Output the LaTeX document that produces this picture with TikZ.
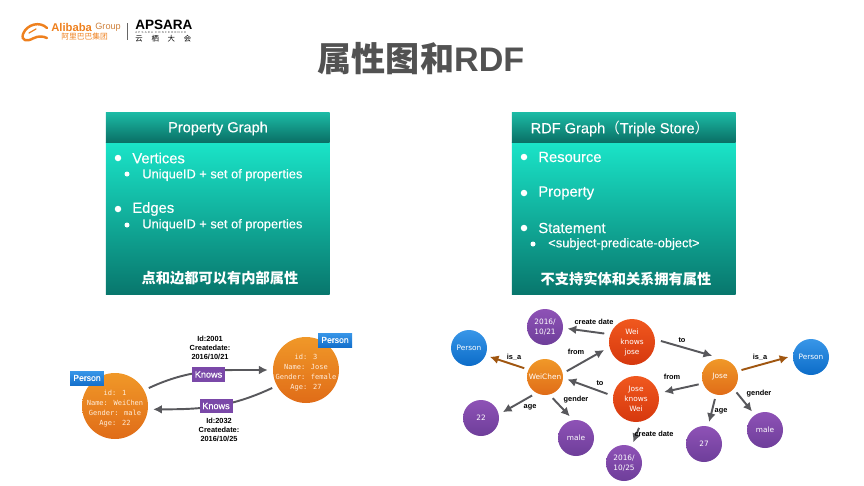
\documentclass[tikz,border=0pt]{standalone}
\usepackage{fontspec}
\setmainfont{Liberation Sans}
\newfontfamily\cjk{Noto Sans CJK SC}
\newfontfamily\roundfont{DejaVu Sans}
\newfontfamily\propfont{DejaVu Sans Mono}
\newfontfamily\panelfont[FakeBold=0.35]{Liberation Sans}
\newfontfamily\tinyfont[LetterSpace=45]{Liberation Sans}
\usetikzlibrary{arrows.meta}
\definecolor{alibaba}{RGB}{238,128,30}
\definecolor{arrowgray}{RGB}{88,88,92}
\definecolor{arrowbrown}{RGB}{160,86,16}
\definecolor{tagpurple}{RGB}{122,72,168}
\definecolor{orangetop}{RGB}{240,152,40}
\definecolor{orangebot}{RGB}{224,108,24}
\newcommand{\ttext}[2]{\fontsize{#1}{#2}\selectfont}
\newcommand{\topgap}{\rule{0pt}{6pt}}

\begin{document}
\begin{tikzpicture}[
      x=0.02cm, y=0.02cm,
      head/.style={minimum width=4.48cm, minimum height=0.6cm, inner sep=0, text=white, top color={rgb,255:red,28;green,188;blue,166}, bottom color={rgb,255:red,10;green,112;blue,102}},
      panel/.style={minimum width=4.48cm, minimum height=3.06cm, inner sep=0, top color={rgb,255:red,26;green,228;blue,200}, bottom color={rgb,255:red,8;green,118;blue,108}},
      bul/.style={circle, fill=white, inner sep=0, minimum size=0.13cm},
      subbul/.style={circle, fill=white, inner sep=0, minimum size=0.1cm},
      headtext/.style={inner sep=0, text=white, font=\panelfont\ttext{8.3}{10}},
      item/.style={anchor=west, inner sep=0, text=white, font=\panelfont\ttext{8.4}{10}},
      subitem/.style={anchor=west, inner sep=0, text=white, font=\panelfont\ttext{7.3}{9}},
      note/.style={inner sep=0, text=white, font=\cjk\bfseries\ttext{8.1}{10}},
      bigball/.style={circle, minimum size=1.32cm, inner sep=-6pt, outer sep=3pt, align=center, text=white!85!orange, top color=orangetop, bottom color=orangebot, font=\propfont\ttext{4}{5.7}},
      ball/.style={circle, minimum size=0.72cm, inner sep=-2pt, outer sep=2.6pt, align=center, text=white, font=\roundfont\ttext{4.2}{5.7}},
      orangeball/.style={ball, top color=orangetop, bottom color=orangebot},
      blueball/.style={ball, top color={rgb,255:red,56;green,150;blue,232}, bottom color={rgb,255:red,12;green,108;blue,200}},
      purpleball/.style={ball, top color={rgb,255:red,142;green,82;blue,182}, bottom color={rgb,255:red,110;green,62;blue,154}},
      redball/.style={ball, minimum size=0.92cm, outer sep=3.4pt, top color={rgb,255:red,240;green,88;blue,30}, bottom color={rgb,255:red,214;green,56;blue,14}},
      persontag/.style={minimum width=0.68cm, minimum height=0.28cm, inner sep=0, text=white, top color={rgb,255:red,56;green,150;blue,232}, bottom color={rgb,255:red,20;green,112;blue,204}, font=\panelfont\ttext{4.9}{6}},
      knowstag/.style={minimum width=0.66cm, minimum height=0.29cm, inner sep=0, text=white, fill=tagpurple, font=\panelfont\ttext{5.2}{6}},
      elabel/.style={inner sep=0, align=center, text=black, font=\bfseries\ttext{4.2}{5.1}},
      arr/.style={-{Latex[length=5pt,width=5pt]}, line width=1.1pt, draw=arrowgray},
      isarr/.style={arr, draw=arrowbrown}
    ]
      \useasboundingbox (0,0) rectangle (864,485);

      % logos
      \draw[alibaba, line width=1.4pt, line cap=round] (47,457) .. controls (40,464) and (27,461) .. (23,451) .. controls (21,444) and (27,443) .. (34,447) .. controls (38,449) and (43,449) .. (47,447);
      \draw[alibaba, line width=0.7pt, line cap=round] (29,452) -- (36,456);
      \node[inner sep=0, anchor=west, text=alibaba, font=\bfseries\ttext{6.4}{8}] (alibabaname) at (51,458) {Alibaba};
      \node[inner sep=0, anchor=west, text=alibaba!70!gray, font=\ttext{5.2}{8}] (groupname) at (95,458) {Group};
      \node[inner sep=0, anchor=west, text=alibaba, font=\cjk\ttext{4.4}{5}] (alibabacn) at (61,448) {阿里巴巴集团};
      \draw[black!60, line width=0.5pt] (127,462) -- (127,445);
      \node[inner sep=0, anchor=west, text=black, font=\bfseries\ttext{7.7}{10}] (apsara) at (135,460) {APSARA};
      \node[inner sep=0, anchor=west, text=black!75, font=\tinyfont\ttext{1.6}{2}] (conference) at (135,452.5) {APSARA CONFERENCE};
      \node[inner sep=0, anchor=west, text=black, font=\cjk\ttext{4.2}{5}] (yunqi) at (135,446) {云\hspace{5pt}栖\hspace{5pt}大\hspace{5pt}会};

      \node[inner sep=0, text=black!68, font=\cjk\bfseries\ttext{19.4}{22}] (title) at (421,426) {属性图和{\fontspec{Liberation Sans}\bfseries RDF}};

      % property graph panel
      \node[panel] (pgbody) at (217.75,266.5) {};
      \node[head] (pghead) at (217.75,358) {};
      \node[headtext] (pgtitle) at (218,356.5) {Property Graph};
      \node[item] (vertices) at (132,327) {Vertices};
      \node[subitem] (vertprops) at (142,310) {UniqueID + set of properties};
      \node[item] (edges) at (132,276) {Edges};
      \node[subitem] (edgeprops) at (142,260) {UniqueID + set of properties};
      \node[note] (pgnote) at (220,207) {点和边都可以有内部属性};
      \foreach \y [count=\i] in {327,276} \node[bul] (pgbul\i) at (118,\y) {};
      \foreach \y [count=\i] in {311,260} \node[subbul] (pgsub\i) at (127,\y) {};

      % rdf panel
      \node[panel] (rdfbody) at (623.75,266.5) {};
      \node[head] (rdfhead) at (623.75,358) {};
      \node[headtext] (rdftitle) at (620,356.5) {RDF Graph{\cjk（}Triple Store{\cjk）}};
      \node[item] (resource) at (538,328) {Resource};
      \node[item] (property) at (538,292) {Property};
      \node[item] (statement) at (538,257) {Statement};
      \node[subitem] (spo) at (548,241) {<subject-predicate-object>};
      \node[note] (rdfnote) at (626,206) {不支持实体和关系拥有属性};
      \foreach \y [count=\i] in {328,292,257} \node[bul] (rdfbul\i) at (524,\y) {};
      \node[subbul] (rdfsub) at (533,241) {};

      % property graph
      \node[bigball] (wei) at (115,79) {\topgap id: 1\\Name: WeiChen\\Gender: male\\Age: 22};
      \node[bigball] (jo) at (306,115) {\topgap id: 3\\Name: Jose\\Gender: female\\Age: 27};
      \draw[arr] (wei.28) to[out=25,in=180] (jo.180);
      \draw[arr] (jo.208) to[out=205,in=0] (wei.-5);
      \node[persontag] (tagwei) at (87,107) {Person};
      \node[persontag] (tagjo) at (335,145) {Person};
      \node[knowstag] (knows1) at (208.5,110.5) {Knows};
      \node[knowstag] (knows2) at (216,79) {Knows};
      \node[elabel] (id1) at (210,137) {Id:2001\\Createdate:\\2016/10/21};
      \node[elabel] (id2) at (219,55) {Id:2032\\Createdate:\\2016/10/25};

      % rdf graph
      \node[blueball] (pl) at (469,137) {Person};
      \node[orangeball] (wc) at (545,108) {WeiChen};
      \node[purpleball] (d1) at (545,158) {2016/\\10/21};
      \node[redball] (wkj) at (632,143) {Wei\\knows\\jose};
      \node[redball] (jkw) at (636,86) {Jose\\knows\\Wei};
      \node[purpleball] (n22) at (481,67) {22};
      \node[purpleball] (ml) at (576,47) {male};
      \node[purpleball] (d2) at (624,22) {2016/\\10/25};
      \node[orangeball] (jose) at (720,108) {Jose};
      \node[blueball] (pr) at (811,128) {Person};
      \node[purpleball] (mr) at (765,55) {male};
      \node[purpleball] (n27) at (704,41) {27};

      \draw[isarr] (wc.157) -- (pl.-23);
      \draw[arr] (wc.15) -- (wkj.196);
      \draw[arr] (wkj.163) -- (d1.-4);
      \draw[arr] (jkw.170) -- (wc.-6);
      \draw[arr] (wc.235) -- (n22.15);
      \draw[arr] (wc.-70) -- (ml.106);
      \draw[arr] (jkw.-84) -- (d2.66);
      \draw[arr] (wkj.2) -- (jose.110);
      \draw[isarr] (jose.18) -- (pr.180);
      \draw[arr] (jose.199) -- (jkw.14);
      \draw[arr] (jose.257) -- (n27.77);
      \draw[arr] (jose.-43) -- (mr.125);

      \node[elabel] (isal) at (514,128) {is\_a};
      \node[elabel] (from1) at (576,133) {from};
      \node[elabel] (cd1) at (594,163) {create date};
      \node[elabel] (to1) at (600,102) {to};
      \node[elabel] (age1) at (530,78) {age};
      \node[elabel] (gender1) at (576,85) {gender};
      \node[elabel] (cd2) at (654,51) {create date};
      \node[elabel] (to2) at (682,145) {to};
      \node[elabel] (isar) at (760,128) {is\_a};
      \node[elabel] (from2) at (672,108) {from};
      \node[elabel] (age2) at (721,74) {age};
      \node[elabel] (gender2) at (759,91) {gender};
    \end{tikzpicture}
\end{document}
